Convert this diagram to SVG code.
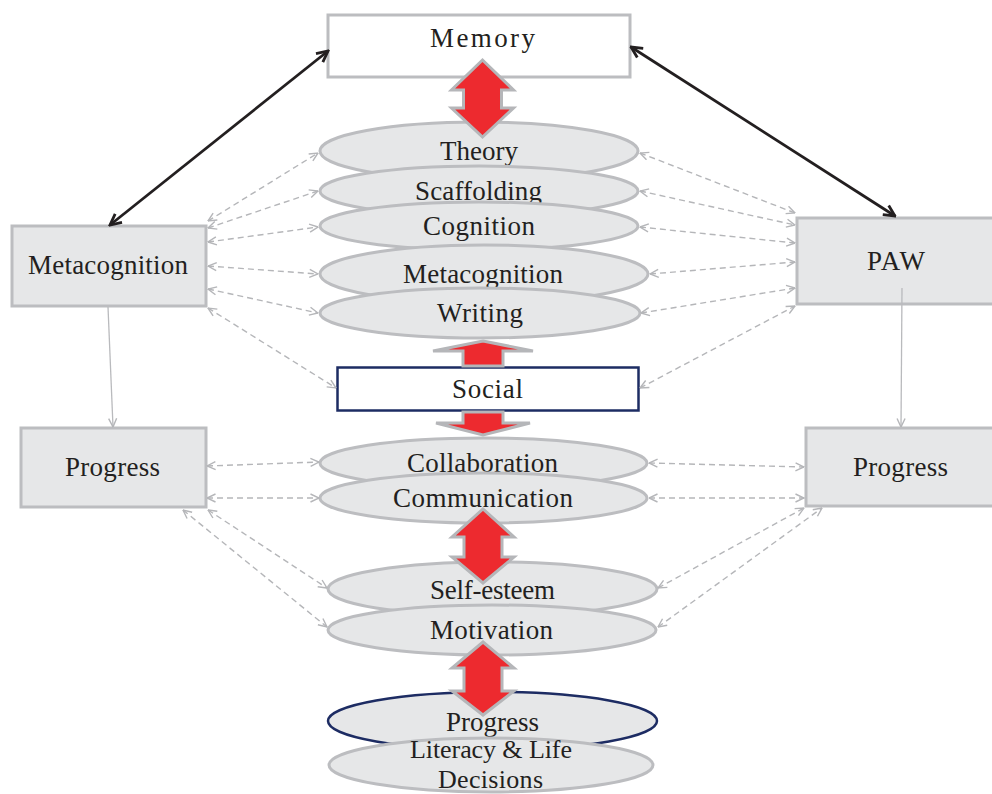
<svg xmlns="http://www.w3.org/2000/svg" width="992" height="794" viewBox="0 0 992 794">
<style>
.box{fill:#e6e7e8;stroke:#bcbdc0;stroke-width:3}
.wbox{fill:#ffffff;stroke:#bcbdc0;stroke-width:3}
.nbox{fill:#ffffff;stroke:#1d2c63;stroke-width:2.5}
.ell{fill:#e6e7e8;stroke:#bcbdc0;stroke-width:3}
.nell{fill:#e6e7e8;stroke:#1d2c63;stroke-width:2.5}
.t{font-family:"Liberation Serif","Times New Roman",serif;font-size:27px;fill:#231f20;text-anchor:middle}
.s{font-size:26px}
.red{fill:#ed2a2f;stroke:#b5b6b9;stroke-width:3;stroke-linejoin:miter}
.dash{fill:none;stroke:#b5b6b9;stroke-width:1.4;stroke-dasharray:6 4;marker-start:url(#ga);marker-end:url(#ga)}
.solid{fill:none;stroke:#b9babd;stroke-width:1.3;marker-end:url(#ga)}
.blk{fill:none;stroke:#231f20;stroke-width:2.8;marker-start:url(#ba);marker-end:url(#ba)}
</style>
<defs>
<marker id="ga" viewBox="0 0 10 10" refX="9.5" refY="5" markerWidth="10" markerHeight="10" markerUnits="userSpaceOnUse" orient="auto-start-reverse"><path d="M1,1 L9.5,5 L1,9" fill="none" stroke="#b5b6b9" stroke-width="1.4"/></marker>
<marker id="ba" viewBox="0 0 14 14" refX="12.5" refY="7" markerWidth="14" markerHeight="14" markerUnits="userSpaceOnUse" orient="auto-start-reverse"><path d="M1.5,1.5 L12.5,7 L1.5,12.5" fill="none" stroke="#231f20" stroke-width="2.8"/></marker>
</defs>

<g id="memory"><rect class="wbox" x="328" y="15" width="302" height="62"/><text class="t" x="482.5" y="47" textLength="105">Memory</text></g>
<g id="metacognition-box"><rect class="box" x="12" y="226" width="194" height="80"/><text class="t" x="108" y="274" textLength="160">Metacognition</text></g>
<g id="progress-left"><rect class="box" x="21" y="428" width="185" height="79"/><text class="t" x="112.5" y="476" textLength="95">Progress</text></g>
<g id="paw"><rect class="box" x="797" y="218" width="200" height="86"/><text class="t" x="896" y="270" textLength="58">PAW</text></g>
<g id="progress-right"><rect class="box" x="806" y="428" width="190" height="78"/><text class="t" x="900.5" y="476" textLength="95">Progress</text></g>

<g id="theory"><ellipse class="ell" cx="479" cy="151" rx="159" ry="29"/><text class="t" x="479" y="160" textLength="78">Theory</text></g>
<g id="scaffolding"><ellipse class="ell" cx="479" cy="191" rx="159" ry="25"/><text class="t" x="478.5" y="200" textLength="127">Scaffolding</text></g>
<g id="cognition"><ellipse class="ell" cx="479" cy="226" rx="159" ry="24"/><text class="t" x="479" y="235" textLength="112">Cognition</text></g>
<g id="metacognition"><ellipse class="ell" cx="484" cy="274" rx="164" ry="29"/><text class="t" x="483" y="283" textLength="160">Metacognition</text></g>
<g id="writing"><ellipse class="ell" cx="480" cy="313" rx="160" ry="25"/><text class="t" x="480" y="322" textLength="86">Writing</text></g>
<g id="social"><rect class="nbox" x="337.5" y="367.5" width="301" height="43"/><text class="t" x="487.5" y="398" textLength="71">Social</text></g>
<g id="collaboration"><ellipse class="ell" cx="483.5" cy="463" rx="163.5" ry="25"/><text class="t" x="482.5" y="472" textLength="151">Collaboration</text></g>
<g id="communication"><ellipse class="ell" cx="483.5" cy="498" rx="163.5" ry="25"/><text class="t" x="483" y="507" textLength="180">Communication</text></g>
<g id="self-esteem"><ellipse class="ell" cx="492.5" cy="589" rx="164.5" ry="27"/><text class="t" x="492.5" y="599" textLength="125">Self-esteem</text></g>
<g id="motivation"><ellipse class="ell" cx="492" cy="630" rx="164" ry="25"/><text class="t" x="491.5" y="639" textLength="123">Motivation</text></g>
<g id="progress"><ellipse class="nell" cx="492.5" cy="721" rx="164.5" ry="29"/><text class="t" x="492.5" y="731" textLength="93">Progress</text></g>
<g id="literacy"><ellipse class="ell" cx="491" cy="765" rx="162" ry="27"/><text class="t s" x="491" y="758" textLength="162">Literacy &amp; Life</text><text class="t s" x="490.5" y="788" textLength="105">Decisions</text></g>

<g id="connectors">
<line class="blk" x1="328" y1="51" x2="110" y2="225"/>
<line class="blk" x1="631" y1="47" x2="895" y2="216"/>
<line class="solid" x1="108" y1="307" x2="113" y2="427"/>
<line class="solid" x1="902" y1="288" x2="901" y2="427"/>

<line class="dash" x1="208" y1="221" x2="318" y2="153"/>
<line class="dash" x1="208" y1="228" x2="318" y2="191"/>
<line class="dash" x1="208" y1="242" x2="318" y2="227"/>
<line class="dash" x1="208" y1="266" x2="318" y2="274"/>
<line class="dash" x1="208" y1="289" x2="318" y2="313"/>
<line class="dash" x1="208" y1="308" x2="336" y2="388"/>

<line class="dash" x1="640" y1="153" x2="795" y2="213"/>
<line class="dash" x1="640" y1="191" x2="795" y2="225"/>
<line class="dash" x1="640" y1="227" x2="795" y2="243"/>
<line class="dash" x1="650" y1="274" x2="795" y2="262"/>
<line class="dash" x1="641" y1="313" x2="795" y2="288"/>
<line class="dash" x1="640" y1="388" x2="795" y2="306"/>

<line class="dash" x1="207" y1="466" x2="319" y2="462"/>
<line class="dash" x1="207" y1="498" x2="319" y2="498"/>
<line class="dash" x1="208" y1="510" x2="327" y2="588"/>
<line class="dash" x1="183" y1="510" x2="327" y2="627"/>

<line class="dash" x1="649" y1="463" x2="804" y2="467"/>
<line class="dash" x1="649" y1="498" x2="804" y2="498"/>
<line class="dash" x1="658" y1="588" x2="804" y2="508"/>
<line class="dash" x1="658" y1="627" x2="822" y2="508"/>

<path class="red" d="M482.5,60 L513.5,90 L501.5,90 L501.5,108 L513.5,108 L482.5,137 L451.5,108 L463.5,108 L463.5,90 L451.5,90 Z"/>
<path class="red" d="M483,341 L533,351 L503,351 L503,366 L463,366 L463,351 L433,351 Z"/>
<path class="red" d="M463,412 L503,412 L503,423 L530,423 L483,435 L436,423 L463,423 Z"/>
<path class="red" d="M483,509 L514,537 L502,537 L502,557 L514,557 L483,583 L452,557 L464,557 L464,537 L452,537 Z"/>
<path class="red" d="M483,642 L514,668 L502,668 L502,691 L514,691 L483,715 L452,691 L464,691 L464,668 L452,668 Z"/>
</g>
</svg>
